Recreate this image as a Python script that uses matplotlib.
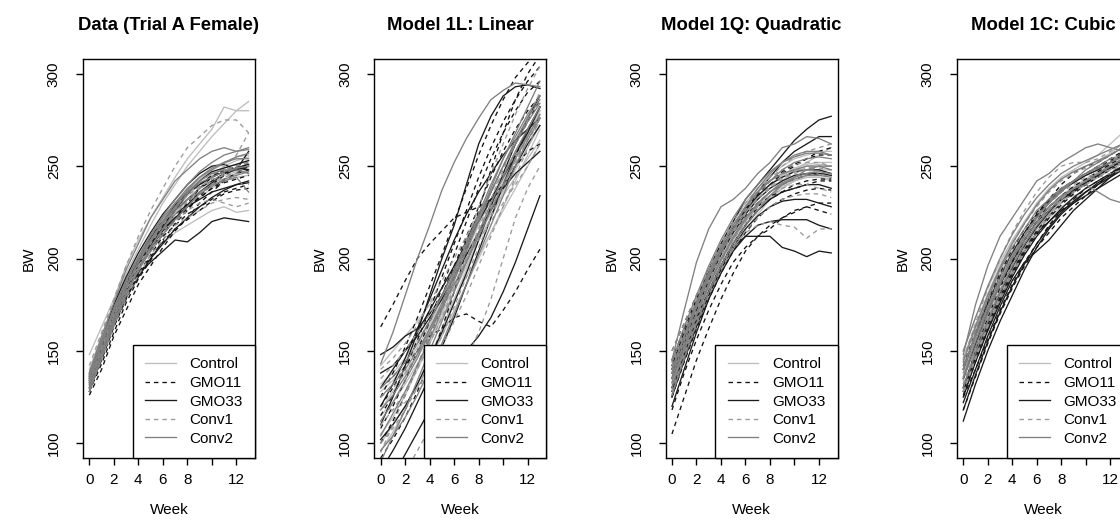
import matplotlib
matplotlib.use( 'Agg' )
import matplotlib.pyplot as pyplot
import numpy


weeks = list( range( 0, 14 ) )
group_names = [ 'Control', 'GMO11', 'GMO33', 'Conv1', 'Conv2' ]
panel_titles = [ 'Data (Trial A Female)', 'Model 1L: Linear', 'Model 1Q: Quadratic', 'Model 1C: Cubic' ]

# body weight per animal, week 0..13
data_control = [
    [148,163,178,196,210,222,233,244,254,262,270,282,280,285],
    [140,158,175,192,205,218,230,240,250,258,266,273,280,280],
    [132,150,168,183,196,207,216,224,232,238,244,250,253,255],
    [128,146,163,178,190,200,208,214,218,222,226,228,225,226],
    [134,152,171,187,199,209,219,226,234,240,245,249,251,253],
    [130,149,166,181,193,205,213,221,229,236,240,245,247,249],
    [136,156,174,189,201,212,221,229,237,243,248,251,255,256],
    [131,150,168,184,196,206,215,222,228,233,238,242,244,245],
]
data_gmo11 = [
    [126,140,158,172,186,196,206,215,222,230,236,242,246,250],
    [132,150,168,184,196,206,215,222,230,238,244,248,250,252],
    [135,152,172,188,200,212,220,228,235,240,245,247,248,246],
    [130,145,163,178,192,202,212,218,224,228,232,236,238,240],
    [128,143,160,176,189,199,210,219,226,234,240,245,249,251],
    [134,151,167,181,194,205,214,221,227,233,238,241,243,245],
    [129,147,165,182,195,204,213,221,228,233,238,243,246,248],
    [131,149,165,179,191,201,209,216,221,226,231,235,237,238],
]
data_gmo33 = [
    [134,152,170,184,192,198,204,210,209,214,220,222,221,220],
    [138,155,175,190,203,214,224,232,240,246,250,251,248,250],
    [130,148,166,182,196,208,218,226,232,238,242,246,248,258],
    [136,154,172,186,198,208,216,222,228,232,236,238,240,242],
    [133,151,169,184,197,206,216,224,229,236,241,246,249,251],
    [137,154,171,187,199,211,220,229,236,240,244,247,249,248],
    [128,146,164,179,190,200,208,216,222,228,233,237,240,241],
    [135,153,170,186,197,207,217,226,235,242,247,249,251,253],
]
data_conv1 = [
    [142,160,178,196,212,226,238,250,260,266,272,275,275,268],
    [130,148,166,182,195,206,216,224,232,238,244,250,256,268],
    [128,146,164,180,194,204,214,220,226,230,232,230,228,230],
    [134,152,170,186,198,210,220,230,236,242,246,248,250,252],
    [132,150,169,185,196,208,218,227,232,238,242,246,249,250],
    [136,155,172,187,200,210,219,228,234,239,243,245,246,247],
    [129,147,164,179,191,202,210,218,222,226,230,232,233,232],
    [133,151,168,183,196,206,216,224,231,235,240,244,246,248],
]
data_conv2 = [
    [138,158,176,194,208,222,232,242,248,254,258,260,258,260],
    [132,150,168,184,198,210,220,230,238,244,248,252,254,254],
    [136,154,172,188,200,212,222,230,236,242,246,248,248,246],
    [128,146,164,180,194,206,216,226,232,236,240,242,244,236],
    [135,154,173,188,201,213,223,232,240,247,252,256,258,259],
    [130,148,166,181,194,204,213,221,228,235,239,243,245,247],
    [133,153,171,185,198,209,219,228,237,244,249,252,255,257],
    [137,156,173,188,200,210,220,227,235,241,244,247,249,250],
]

lin_control = [
    [142,150,158,166,175,184,194,204,214,224,234,244,254,264],
    [118,128,138,148,158,168,178,190,202,214,226,238,250,262],
    [128,134,142,152,164,178,192,206,220,232,244,256,268,280],
    [100,110,120,132,145,158,172,186,200,214,228,242,256,270],
    [115,122,132,143,156,170,185,200,214,228,242,256,268,280],
    [105,114,126,140,154,168,182,196,210,222,236,248,260,272],
    [132,138,146,156,166,178,190,204,218,232,246,258,270,282],
    [96,106,118,132,146,162,178,194,210,226,240,254,266,278],
]
lin_gmo11 = [
    [163,175,188,200,208,215,222,225,228,232,240,250,258,262],
    [120,130,142,150,158,162,168,170,166,163,172,182,194,205],
    [125,138,152,168,185,202,220,238,256,272,286,298,306,312],
    [108,120,134,150,166,184,202,220,238,254,268,280,290,296],
    [115,126,140,156,172,190,208,226,244,260,274,286,296,304],
    [100,112,126,142,158,174,190,206,222,236,250,262,274,286],
    [130,136,144,154,166,180,196,212,228,244,258,270,280,288],
    [92,102,114,128,144,162,182,204,226,248,268,286,300,310],
]
lin_gmo33 = [
    [148,152,158,162,170,180,194,210,224,232,238,246,252,258],
    [110,125,142,160,180,200,218,240,262,277,288,293,294,292],
    [70,82,94,106,118,130,142,150,158,168,182,198,216,234],
    [130,140,150,160,172,184,196,208,220,232,244,256,268,282],
    [120,132,146,162,178,194,210,224,236,246,256,264,270,276],
    [102,110,120,132,146,160,176,192,210,228,246,262,276,288],
    [138,142,150,158,168,178,190,202,214,226,238,250,262,272],
    [85,96,108,122,136,152,168,186,204,222,240,256,270,282],
]
lin_conv1 = [
    [60,72,84,96,108,120,132,146,160,178,200,222,238,250],
    [120,118,122,130,140,152,166,180,196,212,228,244,260,276],
    [135,142,150,160,170,180,190,200,210,220,230,240,250,262],
    [95,110,126,142,158,175,192,210,228,246,262,278,292,304],
    [110,118,128,140,154,168,184,200,216,232,248,262,276,290],
    [125,130,138,148,160,172,186,200,214,228,240,252,264,274],
    [100,108,118,130,144,158,174,190,206,222,238,252,266,278],
    [140,146,154,164,176,188,200,212,224,236,246,256,266,276],
]
lin_conv2 = [
    [143,160,180,200,218,237,252,265,276,286,291,295,294,293],
    [112,122,134,146,160,174,190,206,222,238,254,268,282,296],
    [90,104,118,134,150,166,182,198,214,230,244,258,270,282],
    [125,132,140,150,162,174,186,198,212,226,240,254,266,278],
    [118,126,136,148,162,176,192,208,224,240,254,266,278,288],
    [104,116,128,142,156,172,188,204,220,236,250,264,276,286],
    [130,136,144,154,166,180,194,208,222,236,250,262,274,284],
    [96,104,114,126,140,154,170,186,202,218,234,250,264,276],
]

quad_control = [
    [140,160,178,194,208,220,230,238,245,250,254,256,258,258],
    [130,150,168,184,198,210,220,228,234,240,244,246,248,248],
    [145,162,178,192,204,214,222,230,236,242,248,252,256,260],
    [125,145,164,180,194,206,216,224,232,238,242,244,244,242],
    [136,156,174,190,204,216,226,234,240,245,248,250,251,250],
    [128,148,166,182,196,208,218,226,233,238,242,245,246,246],
    [142,160,177,192,205,216,225,233,240,245,249,251,252,252],
    [132,152,170,186,199,210,220,228,234,239,242,244,244,243],
]
quad_gmo11 = [
    [105,125,145,162,178,192,204,212,218,222,226,228,230,230],
    [118,138,156,172,186,198,206,212,216,222,225,228,226,224],
    [150,165,180,194,206,216,226,234,240,246,250,254,258,260],
    [135,152,168,182,196,208,218,228,234,236,238,240,242,242],
    [130,148,166,182,196,208,218,226,232,236,240,242,243,243],
    [140,158,175,190,203,214,223,230,236,240,243,245,246,245],
    [125,144,162,178,192,204,214,222,228,232,235,237,238,237],
    [145,162,178,193,206,217,227,235,242,247,251,254,256,256],
]
quad_gmo33 = [
    [140,158,176,194,208,220,232,240,248,256,264,270,275,277],
    [130,148,166,182,196,206,212,212,212,206,204,201,204,203],
    [120,140,160,178,192,204,212,218,220,221,221,221,218,216],
    [142,160,176,190,204,216,226,236,244,252,258,262,266,266],
    [135,154,172,188,202,214,224,232,238,242,245,246,246,245],
    [128,148,166,182,196,208,218,226,232,236,238,240,240,238],
    [138,156,174,190,204,216,226,234,240,244,247,248,248,246],
    [125,145,163,180,194,206,216,223,228,231,232,232,230,228],
]
quad_conv1 = [
    [128,148,166,182,196,206,214,218,220,218,217,211,216,216],
    [138,156,174,190,204,216,226,236,244,250,255,258,260,262],
    [150,165,180,194,206,218,228,236,242,246,248,248,246,244],
    [132,150,168,184,198,210,220,228,234,238,240,240,238,236],
    [135,154,172,188,202,214,224,232,238,243,246,248,249,248],
    [142,160,178,194,208,220,230,238,244,248,251,252,252,250],
    [126,146,164,180,194,206,215,222,228,232,234,235,235,233],
    [140,158,175,190,204,215,225,233,239,244,247,249,250,250],
]
quad_conv2 = [
    [145,172,198,216,228,232,238,246,252,260,262,266,265,262],
    [135,155,174,190,204,216,228,238,246,252,256,258,258,256],
    [126,146,165,182,196,208,218,226,234,240,244,248,250,250],
    [140,158,176,192,206,218,228,236,242,246,248,250,250,248],
    [138,158,176,192,206,218,228,236,242,248,252,254,255,254],
    [130,150,169,185,199,211,221,229,236,241,244,246,247,246],
    [144,163,180,196,210,222,232,240,247,252,255,257,257,256],
    [133,152,170,186,200,212,222,230,236,240,243,245,245,244],
]

cub_control = [
    [150,168,184,198,210,220,230,238,244,248,252,256,262,268],
    [138,156,172,186,198,208,218,226,232,238,242,246,250,254],
    [130,148,165,180,193,204,214,222,228,232,236,240,244,248],
    [145,162,178,192,204,214,222,228,232,234,236,240,246,252],
    [140,158,175,190,203,214,224,232,238,242,245,248,252,256],
    [134,153,170,185,198,210,220,228,234,239,243,247,251,255],
    [146,164,181,196,209,220,229,237,243,247,250,253,257,262],
    [128,147,164,180,194,206,216,224,231,236,240,244,248,252],
]
cub_gmo11 = [
    [118,136,154,170,184,196,206,214,222,228,234,240,246,250],
    [130,150,168,184,198,210,220,230,236,242,246,250,254,258],
    [125,140,156,172,186,198,208,218,226,232,238,242,246,250],
    [140,158,176,190,202,214,224,232,240,246,250,252,256,260],
    [135,154,171,186,199,210,220,228,234,239,243,247,251,255],
    [126,144,161,177,191,203,213,222,229,235,240,244,248,252],
    [142,160,177,192,205,216,225,232,238,242,246,249,253,257],
    [130,148,164,179,193,205,215,223,230,236,241,245,249,253],
]
cub_gmo33 = [
    [112,132,150,166,180,194,206,216,224,230,236,240,244,248],
    [128,146,162,178,192,204,214,220,226,230,234,238,242,246],
    [135,154,172,186,198,210,220,226,232,236,242,246,250,252],
    [122,140,158,174,188,198,204,210,218,226,232,238,244,250],
    [130,149,166,181,195,207,217,225,232,237,241,245,249,253],
    [140,158,175,190,203,214,223,231,237,241,245,248,252,256],
    [118,137,155,171,185,197,208,217,225,231,236,241,245,249],
    [125,144,161,176,190,202,212,220,227,233,238,242,246,250],
]
cub_conv1 = [
    [145,165,184,200,214,226,236,244,250,252,252,254,258,262],
    [132,150,168,182,196,208,218,226,232,238,242,246,250,252],
    [140,158,174,190,202,212,222,230,236,240,244,246,248,250],
    [128,146,164,180,194,206,216,224,232,238,242,244,246,248],
    [138,157,174,189,202,213,223,231,237,242,246,249,252,256],
    [132,150,167,183,197,209,219,227,233,238,242,246,250,254],
    [146,164,180,195,208,219,228,236,242,246,249,252,256,260],
    [128,146,163,178,192,204,214,223,230,236,240,244,248,252],
]
cub_conv2 = [
    [148,175,196,212,222,232,242,246,252,256,260,262,260,258],
    [140,160,178,194,206,216,226,232,238,242,246,250,254,256],
    [135,152,170,186,200,210,220,228,234,238,240,236,232,230],
    [142,158,174,188,200,212,222,230,236,242,248,252,256,260],
    [144,163,180,195,208,219,229,237,243,247,250,253,256,260],
    [136,155,172,187,201,212,222,230,237,242,246,249,252,255],
    [130,149,166,182,196,208,218,226,233,238,242,246,250,254],
    [150,168,185,200,213,224,233,240,246,250,253,256,259,262],
]

panels = [
    [ data_control, data_gmo11, data_gmo33, data_conv1, data_conv2 ],
    [ lin_control, lin_gmo11, lin_gmo33, lin_conv1, lin_conv2 ],
    [ quad_control, quad_gmo11, quad_gmo33, quad_conv1, quad_conv2 ],
    [ cub_control, cub_gmo11, cub_gmo33, cub_conv1, cub_conv2 ],
]

# line style per group ( colour , dashed )
group_colors = [ '#bdbdbd', '#111111', '#1a1a1a', '#999999', '#808080' ]
group_dashed = [ False, True, False, True, False ]


pyplot.rcParams['font.family'] = [ 'Liberation Sans', 'DejaVu Sans' ]

fig = pyplot.figure( figsize=( 11.2, 5.31 ), dpi=100 )

W = 1120.0
H = 531.0

for p in range( 4 ):

    left = 83 + 291.3 * p
    ax = fig.add_axes( [ left / W, 73 / H, 172 / W, 399 / H ] )

    for g in range( 5 ):
        for animal in panels[p][g]:
            line, = ax.plot( weeks, animal, color=group_colors[g], linewidth=0.95 )
            if group_dashed[g]:
                line.set_dashes( [ 3.4, 3.0 ] )

    ax.set_xlim( -0.52, 13.52 )
    ax.set_ylim( 92, 308 )
    ax.set_xticks( [ 0, 2, 4, 6, 8, 10, 12 ] )
    ax.set_xticklabels( [ '0', '2', '4', '6', '8', '', '12' ] )
    ax.set_yticks( [ 100, 150, 200, 250, 300 ] )
    ax.set_yticklabels( [ '100', '150', '200', '250', '300' ], rotation=90, va='center' )
    ax.tick_params( axis='both', direction='out', length=5, width=1.0, labelsize=11, color='black' )
    ax.tick_params( axis='x', pad=6 )
    ax.tick_params( axis='y', pad=11 )
    for s in ax.spines.values():
        s.set_linewidth( 1.0 )

    ax.set_xlabel( 'Week', fontsize=11, labelpad=11 )
    ax.set_ylabel( 'BW', fontsize=11, labelpad=8 )
    ax.set_title( panel_titles[p], fontsize=13.3, fontweight='bold', pad=21 )

    # legend with one sample line per group
    handles = list()
    for g in range( 5 ):
        h, = ax.plot( [], [], color=group_colors[g], linewidth=0.95 )
        if group_dashed[g]:
            h.set_dashes( [ 3.4, 3.0 ] )
        handles.append( h )
    leg = ax.legend( handles, group_names, loc='lower right', fontsize=11, borderaxespad=0,
                     fancybox=False, framealpha=1, edgecolor='black', handlelength=2.0,
                     handletextpad=0.9, labelspacing=0.3, borderpad=0.8 )
    leg.get_frame().set_linewidth( 1.0 )

pyplot.savefig( 'out.png', format='png', dpi=100 )
